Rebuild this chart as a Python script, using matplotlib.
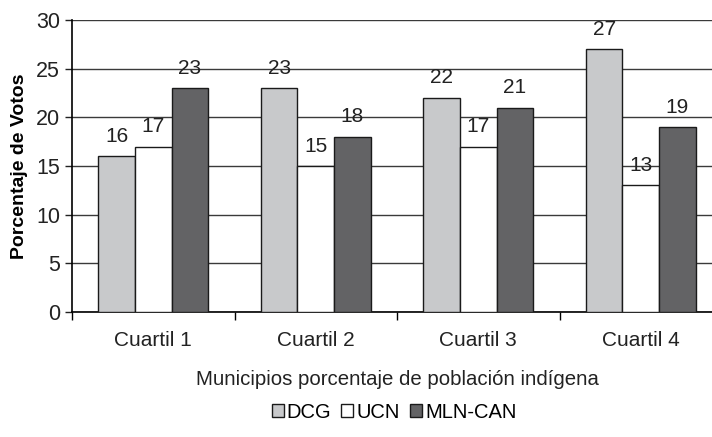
import numpy as np
import matplotlib.pyplot as plt

plt.rcParams['font.family'] = ['Liberation Sans', 'DejaVu Sans']

categories = ['Cuartil 1', 'Cuartil 2', 'Cuartil 3', 'Cuartil 4']
dcg = [16, 23, 22, 27]
ucn = [17, 15, 17, 13]
mln_can = [23, 18, 21, 19]
series_names = ['DCG', 'UCN', 'MLN-CAN']
colors = ['#c8c9cb', '#ffffff', '#636365']

fig = plt.figure(figsize=(7.12, 4.37), dpi=100)
# axes extends a bit past the right edge, like the original crop
ax = fig.add_axes([72 / 712, 1 - 312 / 437, (722 - 72) / 712, (312 - 20) / 437])

x = np.arange(len(categories))
w = 0.225
for i, (vals, c, name) in enumerate(zip([dcg, ucn, mln_can], colors, series_names)):
    pos = x + (i - 1) * w
    ax.bar(pos, vals, width=w, color=c, edgecolor='#1a1a1a', linewidth=1.0,
           label=name, zorder=3)
    for px, v in zip(pos, vals):
        ax.annotate(str(v), (px, v), xytext=(0, 7.5), textcoords='offset points',
                    ha='center', va='bottom', fontsize=15, color='#222222')

ax.set_xlim(-0.5, len(categories) - 0.5)
ax.set_ylim(0, 30)
ax.set_yticks(range(0, 31, 5))
ax.tick_params(axis='y', labelsize=15.5, length=5, width=1, direction='out', colors='#222222')
ax.set_xticks(np.arange(-0.5, len(categories) + 0.5, 1))
ax.set_xticklabels([])
ax.set_xticks(x, minor=True)
ax.set_xticklabels(categories, minor=True)
ax.tick_params(axis='x', which='major', length=6, width=1, direction='out')
ax.tick_params(axis='x', which='minor', length=0, labelsize=15, pad=14, colors='#222222')

ax.yaxis.grid(True, color='#3a3a3a', linewidth=1.0, zorder=0)
ax.set_axisbelow(True)
for s in ['top', 'right']:
    ax.spines[s].set_visible(False)
ax.spines['left'].set_linewidth(1.2)
ax.spines['bottom'].set_linewidth(1.2)

ax.set_ylabel('Porcentaje de Votos', fontsize=14, fontweight='bold', labelpad=6)
ax.set_xlabel('Municipios porcentaje de población indígena', fontsize=14.7,
              labelpad=14, color='#222222')

fig.legend(loc='center', bbox_to_anchor=(394 / 712, 1 - 412 / 437), ncol=3,
           frameon=False, fontsize=14.5, handlelength=0.6, handleheight=0.6,
           handletextpad=0.15, columnspacing=0.5)

fig.savefig('out.png', dpi=100)
